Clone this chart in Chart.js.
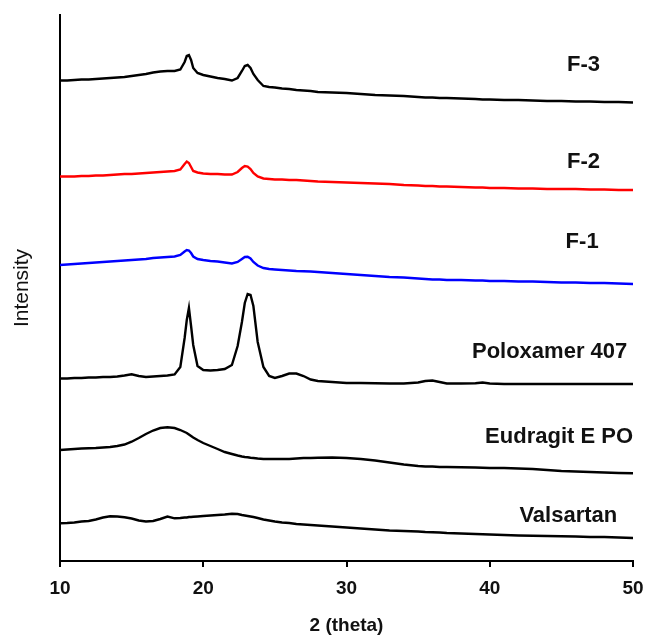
<!DOCTYPE html>
<html>
<head>
<meta charset="utf-8">
<title>XRD patterns</title>
<script src="https://cdn.jsdelivr.net/npm/chart.js@4.4.1/dist/chart.umd.min.js"></script>
<style>
    html, body { margin: 0; padding: 0; background: #fff; }
    canvas { display: block; }
</style>
</head>
<body>
<canvas id="xrdChart" width="645" height="635"></canvas>
<script>
// 2-theta positions (denser around the 19 and 23 degree peaks)
const TWO_THETA = [
    10, 10.5, 11, 11.5, 12, 12.5, 13, 13.5, 14, 14.5, 15, 15.5, 16, 16.5, 17, 17.5, 18,
    18.4, 18.7, 18.85, 19.0, 19.15, 19.3, 19.6, 20, 20.5, 21, 21.5, 22,
    22.4, 22.7, 22.9, 23.1, 23.3, 23.5, 23.8, 24.2, 24.6,
    25, 25.5, 26, 26.5, 27, 27.5, 28, 29, 30, 31, 32, 33, 34, 35,
    35.5, 36, 36.5, 37, 38, 39, 39.5, 40, 41, 42, 43, 44, 45, 46, 47, 48, 49, 50
];

// Stacked intensities (arbitrary units, offsets included)
const F3 = [
    480.5, 480.5, 481, 481.5, 481.5, 482, 482.5, 483, 483.5, 484, 485, 486, 487, 488.5, 489.5, 490, 490,
    491.5, 499, 505, 506, 501, 493, 488, 486, 484.5, 483, 482, 480.5,
    483, 490, 495, 496, 493, 487, 481, 475, 474,
    473.5, 472.5, 472, 471, 470.5, 470, 469, 468.5, 468, 467, 466, 465.5, 465, 464,
    463.5, 463.5, 463, 463, 462.5, 462, 461.5, 461.5, 461, 461, 460.5, 460, 460, 459.5, 459.5, 459, 459, 458.5
];
const F2 = [
    384.5, 384.5, 384.5, 385, 385, 385.5, 385.5, 386, 386.5, 387, 387, 387.5, 388, 388.5, 389, 389.5, 390,
    391.5, 397, 399.5, 398, 394, 390, 388.5, 387.5, 387, 387, 386.5, 386.5,
    389, 393, 395, 394.5, 392, 388, 384.5, 382.5, 382,
    381.5, 381.5, 381, 381, 380.5, 380, 379.5, 379, 378.5, 378, 377.5, 377, 376, 375.5,
    375, 375, 374.5, 374.5, 374, 373.5, 373.5, 373, 373, 372.5, 372.5, 372, 372, 372, 371.5, 371.5, 371, 371
];
const F1 = [
    296, 296.5, 297, 297.5, 298, 298.5, 299, 299.5, 300, 300.5, 301, 301.5, 302, 303, 303.5, 304, 304.5,
    306, 309.5, 311, 310.5, 308, 304.5, 302, 301, 300, 299.5, 298.5, 297.5,
    299, 302, 304, 304.3, 302.5, 299, 295.5, 293, 292,
    291.5, 291, 290.5, 290, 289.8, 289.5, 289, 288, 287, 286, 285, 284, 283.5, 282.5,
    282, 281.5, 281.5, 281, 281, 280.5, 280.5, 280, 280, 279.5, 279.5, 279, 278.5, 278.5, 278, 278, 277.5, 277
];
const POLOXAMER = [
    182.5, 182.5, 183, 183, 183.5, 183.5, 184, 184, 184.5, 185.5, 186.7, 185, 184, 184.5, 185, 185.5, 186.5,
    194, 223, 241, 253, 235, 216, 195, 191, 190.5, 191, 192, 196,
    215, 239, 258, 267, 266, 255, 219, 194, 185,
    183, 185, 187.5, 187.5, 185, 181.5, 180, 179, 178, 178, 177.7, 177.5, 177.5, 178.5,
    180, 180.5, 179, 177.5, 177.5, 177.7, 178.5, 177.5, 177, 177, 177, 177, 177, 177, 177, 177, 177, 177
];
const EUDRAGIT = [
    111, 111.5, 112, 112.5, 112.7, 113, 113.5, 114, 115, 116.5, 119.3, 123, 127, 130.5, 133, 133.7, 133,
    131, 129, 128, 126.5, 125, 123.5, 121, 118, 115, 112, 109, 107,
    105.5, 104.5, 104, 103.7, 103.2, 103, 102.5, 102, 102,
    102, 102, 102, 102.5, 103, 103, 103.3, 103.5, 103, 102, 100.5, 98.5, 96.5, 95,
    94.5, 94.5, 94, 94, 93.7, 93.5, 93.2, 93, 93, 92.5, 92, 91, 90, 89.5, 89, 88.5, 88, 87.7
];
const VALSARTAN = [
    37.7, 38, 38.5, 39.5, 40, 41.5, 43.5, 44.7, 44.5, 43.7, 42.5, 40.5, 39.5, 40, 42, 44.5, 42.7,
    43, 43.5, 43.5, 44, 44, 44.2, 44.5, 45, 45.5, 46, 46.5, 47.3,
    47, 46, 45.5, 45, 44.5, 44, 43, 41.5, 40.5,
    39.5, 38.5, 38, 37, 36.5, 36, 35.5, 34.5, 33.5, 32.5, 31.5, 30.5, 30, 29.5,
    29, 28.7, 28.5, 28, 27.5, 27, 26.7, 26.5, 26, 25.5, 25.2, 25, 24.7, 24.5, 24, 24, 23.5, 23
];

const TRACE_NAMES = ['F-3', 'F-2', 'F-1', 'Poloxamer 407', 'Eudragit E PO', 'Valsartan'];
const TRACE_DATA = [F3, F2, F1, POLOXAMER, EUDRAGIT, VALSARTAN];
const TRACE_COLORS = ['#000000', '#ff0000', '#0000ff', '#000000', '#000000', '#000000'];

// where each name sits: right edge (2-theta) and intensity level
const LABEL_ANGLE = [47.7, 47.7, 47.6, 49.6, 50.0, 48.9];
const LABEL_LEVEL = [496, 399, 319, 209, 124, 45];

const X_TICKS = [10, 20, 30, 40, 50];

const FONT = '"Liberation Sans", Arial, sans-serif';

const traceLabels = {
    id: 'traceLabels',
    afterDatasetsDraw(chart) {
        const { ctx, scales: { x, y } } = chart;
        ctx.save();
        ctx.font = 'bold 22px ' + FONT;
        ctx.fillStyle = '#111';
        ctx.textAlign = 'right';
        ctx.textBaseline = 'middle';
        TRACE_NAMES.forEach((name, i) => {
            ctx.fillText(name, x.getPixelForValue(LABEL_ANGLE[i]), y.getPixelForValue(LABEL_LEVEL[i]));
        });
        ctx.restore();
    }
};

function buildDatasets() {
    return TRACE_NAMES.map((name, i) => ({
        label: name,
        data: TWO_THETA.map((t, j) => ({ x: t, y: TRACE_DATA[i][j] })),
        borderColor: TRACE_COLORS[i],
        borderWidth: 2.4,
        pointRadius: 0,
        tension: 0,
        fill: false
    }));
}

new Chart(document.getElementById('xrdChart'), {
    type: 'line',
    data: { datasets: buildDatasets() },
    plugins: [traceLabels],
    options: {
        responsive: false,
        animation: false,
        layout: { padding: { top: 15, right: 0, left: 0, bottom: 0 } },
        plugins: { legend: { display: false }, tooltip: { enabled: false } },
        scales: {
            x: {
                type: 'linear',
                min: 10, max: 50,
                afterBuildTicks: (scale) => { scale.ticks = X_TICKS.map(v => ({ value: v })); },
                afterFit: (scale) => {
                    scale.height = 74;
                    scale.paddingLeft = 0;
                    scale.paddingRight = 12;
                },
                grid: { display: true, drawOnChartArea: false, drawTicks: true, tickLength: 6, color: '#000', lineWidth: 2 },
                border: { display: true, color: '#000', width: 2 },
                ticks: { color: '#111', padding: 10, font: { family: FONT, size: 19, weight: 'bold', lineHeight: 1.2 } },
                title: {
                    display: true, text: '2 (theta)', color: '#111',
                    padding: { top: 0, bottom: 0 },
                    font: { family: FONT, size: 19, weight: 'bold', lineHeight: 1.0 }
                }
            },
            y: {
                min: 0, max: 546,
                afterFit: (scale) => { scale.width = 60; },
                grid: { display: false },
                border: { display: true, color: '#000', width: 2 },
                ticks: { display: false },
                title: {
                    display: true, text: 'Intensity', color: '#111',
                    padding: { top: 10, bottom: 0 },
                    font: { family: FONT, size: 21, weight: 'normal', lineHeight: 1.2 }
                }
            }
        }
    }
});
</script>
</body>
</html>
